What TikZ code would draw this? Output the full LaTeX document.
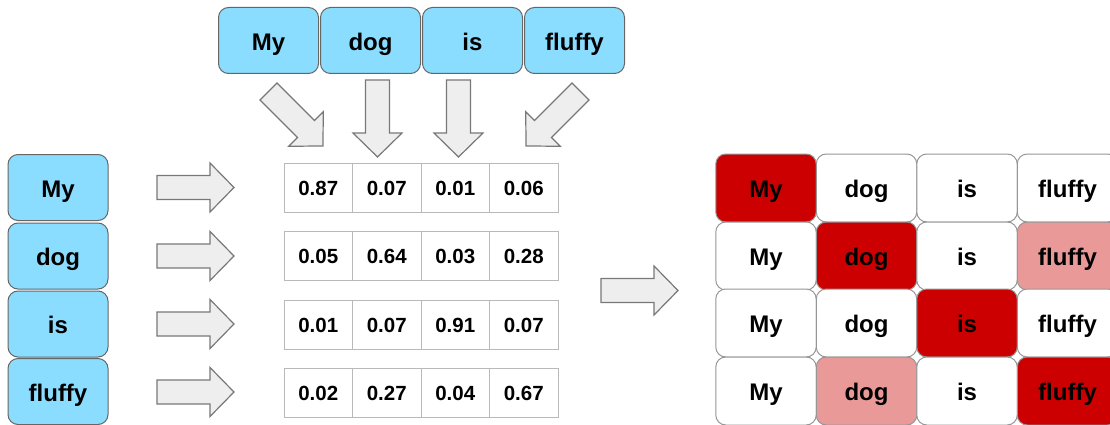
\documentclass[tikz,border=0pt]{standalone}
\usepackage{fontspec}
\setmainfont{Liberation Sans}
\definecolor{tokblue}{RGB}{138,221,255}
\definecolor{boxline}{RGB}{102,102,102}
\definecolor{gridline}{RGB}{150,150,150}
\definecolor{cellline}{RGB}{185,185,185}
\definecolor{arrowfill}{RGB}{238,238,238}
\definecolor{arrowline}{RGB}{120,120,120}
\definecolor{strong}{RGB}{204,0,0}
\definecolor{mild}{RGB}{234,153,153}
\tikzset{
  wordfont/.style={font=\fontsize{24}{24}\selectfont\bfseries,
    text height=20pt, text depth=0.5pt},
  token/.style={wordfont, draw=boxline, line width=1pt, fill=tokblue,
    rounded corners=10pt, minimum width=100pt, minimum height=66pt, inner sep=0pt},
  cell/.style={font=\fontsize{20.5}{20.5}\selectfont\bfseries, draw=cellline,
    text height=16pt, text depth=0.5pt,
    line width=1pt, fill=white, minimum width=68.5pt, minimum height=49pt, inner sep=0pt},
  wcell/.style={wordfont, draw=gridline, line width=1pt, fill=white,
    rounded corners=10pt, minimum width=100.5pt, minimum height=68pt, inner sep=0pt},
  blockarrow/.style={draw=arrowline, fill=arrowfill, line width=1.2pt, line join=miter}
}
% block arrow: tail centre, direction angle
\newcommand\blockarrowat[2]{%
  \begin{scope}[shift={#1}, rotate=#2]
    \draw[blockarrow] (0,-12) -- (53,-12) -- (53,-24.5) -- (77,0)
      -- (53,24.5) -- (53,12) -- (0,12) -- cycle;
  \end{scope}}
\begin{document}
\begin{tikzpicture}[x=1pt, y=-1pt]
\useasboundingbox (0,0) rectangle (1110,425);
\clip (0,0) rectangle (1110,425);

% query tokens along the top
\node[token] (q1) at (268.5,40.5) {My};
\node[token] (q2) at (370.5,40.5) {dog};
\node[token] (q3) at (472.5,40.5) {is};
\node[token] (q4) at (574.5,40.5) {fluffy};

% key tokens down the left
\node[token] (k1) at (58,187.5) {My};
\node[token] (k2) at (58,256) {dog};
\node[token] (k3) at (58,324) {is};
\node[token] (k4) at (58,391.5) {fluffy};

% arrows from the tokens into the score table
\blockarrowat{(268.5,91.5)}{-45}
\blockarrowat{(377.5,80)}{-90}
\blockarrowat{(458.5,80)}{-90}
\blockarrowat{(580.5,91.5)}{-135}
\blockarrowat{(157,187.5)}{0}
\blockarrowat{(157,256)}{0}
\blockarrowat{(157,324)}{0}
\blockarrowat{(157,392)}{0}

% attention scores
\foreach \r/\y/\a/\b/\c/\d in {1/187.5/0.87/0.07/0.01/0.06,
                               2/256/0.05/0.64/0.03/0.28,
                               3/324.5/0.01/0.07/0.91/0.07,
                               4/392.5/0.02/0.27/0.04/0.67}{
  \node[cell] (s\r1) at (318.25,\y) {\a};
  \node[cell] (s\r2) at (386.75,\y) {\b};
  \node[cell] (s\r3) at (455.25,\y) {\c};
  \node[cell] (s\r4) at (523.75,\y) {\d};
}

% arrow to the weighted grid
\blockarrowat{(601,290.5)}{0}

% weighted word grid
\foreach \r/\y/\fa/\fb/\fc/\fd in {1/188/strong/white/white/white,
                                   2/256/white/strong/white/mild,
                                   3/323/white/white/strong/white,
                                   4/391/white/mild/white/strong}{
  \node[wcell, fill=\fa] (w\r1) at (766,\y) {My};
  \node[wcell, fill=\fb] (w\r2) at (866.5,\y) {dog};
  \node[wcell, fill=\fc] (w\r3) at (967,\y) {is};
  \node[wcell, fill=\fd] (w\r4) at (1067.5,\y) {fluffy};
}
\end{tikzpicture}
\end{document}
